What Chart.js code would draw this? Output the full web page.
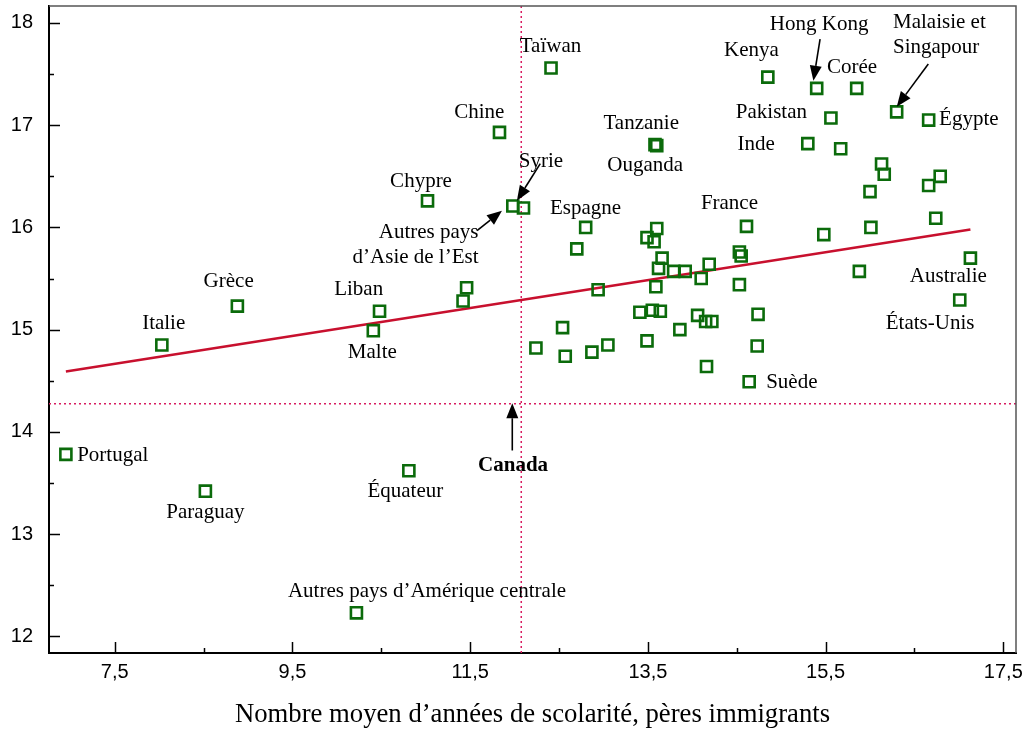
<!DOCTYPE html>
<html lang="fr">
<head>
<meta charset="utf-8">
<title>Scolarité des pères immigrants et des enfants</title>
<script src="https://cdn.jsdelivr.net/npm/chart.js@4.4.1/dist/chart.umd.min.js"></script>
<style>
  html, body { margin: 0; padding: 0; background: #ffffff; }
  #wrap { width: 1022px; height: 742px; }
</style>
</head>
<body>
<div id="wrap"><canvas id="chart" width="1022" height="742"></canvas></div>
<script>
// Pays d'origine (vide = point sans étiquette)
const countries = [
  'Taïwan', 'Chine', 'Tanzanie', 'Ouganda', 'Chypre', 'Autres pays d’Asie de l’Est', 'Syrie', 'Espagne',
  '', '', '', '', '', '', '', '', '', '', '', '', '', '',
  'Liban', 'Malte', '', '', '', '', '', '', '', '', '',
  'France', '', '', '', '', '', '', '', '', '', 'Australie', 'États-Unis',
  '', '', '', '', '', '', '', 'Suède',
  'Kenya', 'Hong Kong', 'Corée', 'Pakistan', 'Malaisie et Singapour', 'Égypte', 'Inde',
  '', '', '', '',
  'Grèce', 'Italie', 'Portugal', 'Paraguay', 'Équateur', 'Autres pays d’Amérique centrale'
];
// Nombre moyen d'années de scolarité des pères immigrants
const fatherYears = [
  12.41, 11.83, 13.58, 13.60, 11.02, 11.98, 12.10, 12.80,
  12.70, 13.60, 13.49, 13.57, 13.66, 13.62, 13.79, 13.92, 14.10, 14.19, 13.59, 12.94, 11.46, 11.42,
  10.48, 10.41, 13.41, 13.55, 13.64, 12.54, 12.24, 12.57, 12.87, 13.05, 13.49,
  14.61, 15.48, 16.01, 16.74, 16.00, 16.66, 14.53, 14.55, 14.53, 15.88, 17.13, 17.01,
  14.74, 14.06, 14.15, 14.22, 13.86, 14.73, 14.16, 14.64,
  14.85, 15.40, 15.85, 15.56, 16.30, 16.66, 15.30,
  15.67, 16.13, 16.16, 16.79,
  8.88, 8.03, 6.95, 8.52, 10.81, 10.22
];
// Nombre moyen d'années de scolarité des enfants
const childYears = [
  17.56, 16.93, 16.81, 16.80, 16.26, 16.21, 16.19, 16.00,
  15.79, 15.99, 15.90, 15.86, 15.70, 15.60, 15.57, 15.57, 15.50, 15.64, 15.42, 15.39, 15.41, 15.28,
  15.18, 14.99, 15.17, 15.19, 15.18, 15.02, 14.82, 14.74, 14.78, 14.85, 14.89,
  16.01, 15.93, 16.00, 16.09, 16.35, 16.41, 15.76, 15.72, 15.44, 15.57, 15.70, 15.29,
  15.15, 15.14, 15.08, 15.08, 15.00, 14.84, 14.64, 14.49,
  17.47, 17.36, 17.36, 17.07, 17.13, 17.05, 16.82,
  16.77, 16.62, 16.52, 16.50,
  15.23, 14.85, 13.78, 13.42, 13.62, 12.23
];
// Droite de régression (extrémités)
const fitX = [6.95, 17.13];
const fitY = [14.59, 15.98];
// Moyennes canadiennes
const canadaFather = 12.075;
const canadaChild = 14.275;

// Graduations
const xTickValues = [7.5, 9.5, 11.5, 13.5, 15.5, 17.5];
const xMinorValues = [8.5, 10.5, 12.5, 14.5, 16.5];
const yTickValues = [12, 13, 14, 15, 16, 17, 18];
const yMinorValues = [12.5, 13.5, 14.5, 15.5, 16.5, 17.5];
const xRange = [6.76, 17.643];
const yRange = [11.837, 18.166];

// Placement des étiquettes (coordonnées des données)
const labelPlacement = [
  { text: 'Taïwan', x: 12.404, y: 17.767, align: 'center' },
  { text: 'Chine', x: 11.602, y: 17.122, align: 'center' },
  { text: 'Tanzanie', x: 13.425, y: 17.015, align: 'center' },
  { text: 'Ouganda', x: 13.47, y: 16.604, align: 'center' },
  { text: 'Chypre', x: 10.947, y: 16.448, align: 'center' },
  { text: 'Syrie', x: 12.296, y: 16.643, align: 'center' },
  { text: 'Autres pays', x: 11.594, y: 15.949, align: 'right' },
  { text: 'd’Asie de l’Est', x: 11.594, y: 15.705, align: 'right' },
  { text: 'Espagne', x: 12.798, y: 16.184, align: 'center' },
  { text: 'Hong Kong', x: 15.427, y: 17.982, align: 'center' },
  { text: 'Kenya', x: 14.665, y: 17.728, align: 'center' },
  { text: 'Corée', x: 15.798, y: 17.562, align: 'center' },
  { text: 'Malaisie et', x: 16.259, y: 18.002, align: 'left' },
  { text: 'Singapour', x: 16.259, y: 17.757, align: 'left' },
  { text: 'Pakistan', x: 14.89, y: 17.122, align: 'center' },
  { text: 'Égypte', x: 16.777, y: 17.054, align: 'left' },
  { text: 'Inde', x: 14.718, y: 16.809, align: 'center' },
  { text: 'France', x: 14.418, y: 16.23, align: 'center' },
  { text: 'Australie', x: 16.881, y: 15.516, align: 'center' },
  { text: 'États-Unis', x: 16.676, y: 15.057, align: 'center' },
  { text: 'Suède', x: 14.831, y: 14.486, align: 'left' },
  { text: 'Grèce', x: 8.782, y: 15.473, align: 'center' },
  { text: 'Italie', x: 8.051, y: 15.063, align: 'center' },
  { text: 'Liban', x: 10.245, y: 15.392, align: 'center' },
  { text: 'Malte', x: 10.399, y: 14.773, align: 'center' },
  { text: 'Portugal', x: 7.077, y: 13.769, align: 'left' },
  { text: 'Paraguay', x: 8.52, y: 13.215, align: 'center' },
  { text: 'Équateur', x: 10.77, y: 13.42, align: 'center' },
  { text: 'Autres pays d’Amérique centrale', x: 11.014, y: 12.443, align: 'center' },
  { text: 'Canada', x: 11.983, y: 13.672, align: 'center', bold: true }
];

// Flèches : [queue x, queue y, pointe x, pointe y]
const arrows = [
  [11.974, 13.818, 11.974, 14.28],
  [12.289, 16.624, 12.026, 16.262],
  [11.577, 15.969, 11.858, 16.164],
  [15.438, 17.843, 15.363, 17.435],
  [16.656, 17.598, 16.301, 17.181]
];

const points = fatherYears.map((x, i) => ({ x, y: childYears[i], name: countries[i] }));
const fitLine = fitX.map((x, i) => ({ x, y: fitY[i] }));

// Les axes n'ajoutent pas de marge pour les libellés extrêmes
const noEdgePadding = s => {
  s.paddingTop = 0; s.paddingBottom = 0; s.paddingLeft = 0; s.paddingRight = 0;
};

const overlay = {
  id: 'overlay',
  afterDraw(chart) {
    const { ctx, chartArea: a, scales: { x: sx, y: sy } } = chart;
    ctx.save();

    // cadre haut et droit
    ctx.strokeStyle = '#555555';
    ctx.lineWidth = 1.5;
    ctx.beginPath();
    ctx.moveTo(a.left, a.top);
    ctx.lineTo(a.right, a.top);
    ctx.lineTo(a.right, a.bottom);
    ctx.stroke();

    // graduations vers l'intérieur
    ctx.strokeStyle = '#000000';
    ctx.lineWidth = 1.5;
    const tickX = (vals, len) => vals.forEach(v => {
      const px = Math.round(sx.getPixelForValue(v)) + 0.5;
      ctx.beginPath(); ctx.moveTo(px, a.bottom); ctx.lineTo(px, a.bottom - len); ctx.stroke();
    });
    const tickY = (vals, len) => vals.forEach(v => {
      const py = Math.round(sy.getPixelForValue(v)) + 0.5;
      ctx.beginPath(); ctx.moveTo(a.left, py); ctx.lineTo(a.left + len, py); ctx.stroke();
    });
    tickX(xTickValues, 11); tickX(xMinorValues, 5);
    tickY(yTickValues, 11); tickY(yMinorValues, 5);

    // flèches
    ctx.fillStyle = '#000000';
    ctx.lineWidth = 1.6;
    arrows.forEach(([x0, y0, x1, y1]) => {
      const ax = sx.getPixelForValue(x0), ay = sy.getPixelForValue(y0);
      const bx = sx.getPixelForValue(x1), by = sy.getPixelForValue(y1);
      const ang = Math.atan2(by - ay, bx - ax);
      const head = 15, half = 6;
      const hx = bx - head * Math.cos(ang), hy = by - head * Math.sin(ang);
      ctx.beginPath(); ctx.moveTo(ax, ay); ctx.lineTo(hx, hy); ctx.stroke();
      ctx.beginPath();
      ctx.moveTo(bx, by);
      ctx.lineTo(hx + half * Math.sin(ang), hy - half * Math.cos(ang));
      ctx.lineTo(hx - half * Math.sin(ang), hy + half * Math.cos(ang));
      ctx.closePath(); ctx.fill();
    });

    // étiquettes
    ctx.textBaseline = 'middle';
    labelPlacement.forEach(l => {
      ctx.font = (l.bold ? 'bold ' : '') + '21px "Liberation Serif", "Times New Roman", serif';
      ctx.textAlign = l.align;
      ctx.fillText(l.text, sx.getPixelForValue(l.x), sy.getPixelForValue(l.y));
    });
    ctx.restore();
  }
};

new Chart(document.getElementById('chart'), {
  type: 'scatter',
  data: {
    datasets: [
      {
        label: 'Pays',
        data: points,
        pointStyle: 'rect',
        pointRadius: 7.8,
        pointHoverRadius: 7.8,
        pointBorderWidth: 2.6,
        borderColor: '#0b6b0b',
        backgroundColor: 'rgba(0,0,0,0)',
        order: 0
      },
      {
        type: 'line',
        label: 'Régression',
        data: fitLine,
        borderColor: '#c8102e',
        borderWidth: 2.5,
        pointRadius: 0,
        fill: false,
        order: 1
      },
      {
        type: 'line',
        label: 'Canada (pères)',
        data: [{ x: canadaFather, y: yRange[0] }, { x: canadaFather, y: yRange[1] }],
        borderColor: '#d81b60',
        borderWidth: 1.5,
        borderDash: [2, 3],
        pointRadius: 0,
        fill: false,
        order: 2
      },
      {
        type: 'line',
        label: 'Canada (enfants)',
        data: [{ x: xRange[0], y: canadaChild }, { x: xRange[1], y: canadaChild }],
        borderColor: '#d81b60',
        borderWidth: 1.5,
        borderDash: [2, 3],
        pointRadius: 0,
        fill: false,
        order: 2
      }
    ]
  },
  options: {
    responsive: false,
    animation: false,
    layout: { autoPadding: false, padding: { left: 0, right: 6, top: 6, bottom: 0 } },
    plugins: { legend: { display: false }, tooltip: { enabled: false } },
    scales: {
      x: {
        type: 'linear',
        min: xRange[0],
        max: xRange[1],
        afterBuildTicks: s => { s.ticks = xTickValues.map(v => ({ value: v })); },
        afterFit: s => { s.height = 89; noEdgePadding(s); },
        grid: { display: false, drawTicks: false, tickLength: 0 },
        border: { display: true, color: '#000000', width: 2 },
        ticks: {
          autoSkip: false,
          maxRotation: 0,
          padding: 7,
          color: '#000000',
          font: { family: '"Liberation Sans", Arial, sans-serif', size: 20 },
          callback: v => String(v).replace('.', ',')
        },
        title: {
          display: true,
          text: 'Nombre moyen d’années de scolarité, pères immigrants',
          color: '#000000',
          font: { family: '"Liberation Serif", "Times New Roman", serif', size: 26.7 },
          padding: { top: 11, bottom: 11 }
        }
      },
      y: {
        type: 'linear',
        min: yRange[0],
        max: yRange[1],
        afterBuildTicks: s => { s.ticks = yTickValues.map(v => ({ value: v })); },
        afterFit: s => { s.width = 49; noEdgePadding(s); },
        grid: { display: false, drawTicks: false, tickLength: 0 },
        border: { display: true, color: '#000000', width: 2 },
        ticks: {
          autoSkip: false,
          padding: 16,
          color: '#000000',
          font: { family: '"Liberation Sans", Arial, sans-serif', size: 20 },
          callback: v => String(v)
        }
      }
    }
  },
  plugins: [overlay]
});
</script>
</body>
</html>
